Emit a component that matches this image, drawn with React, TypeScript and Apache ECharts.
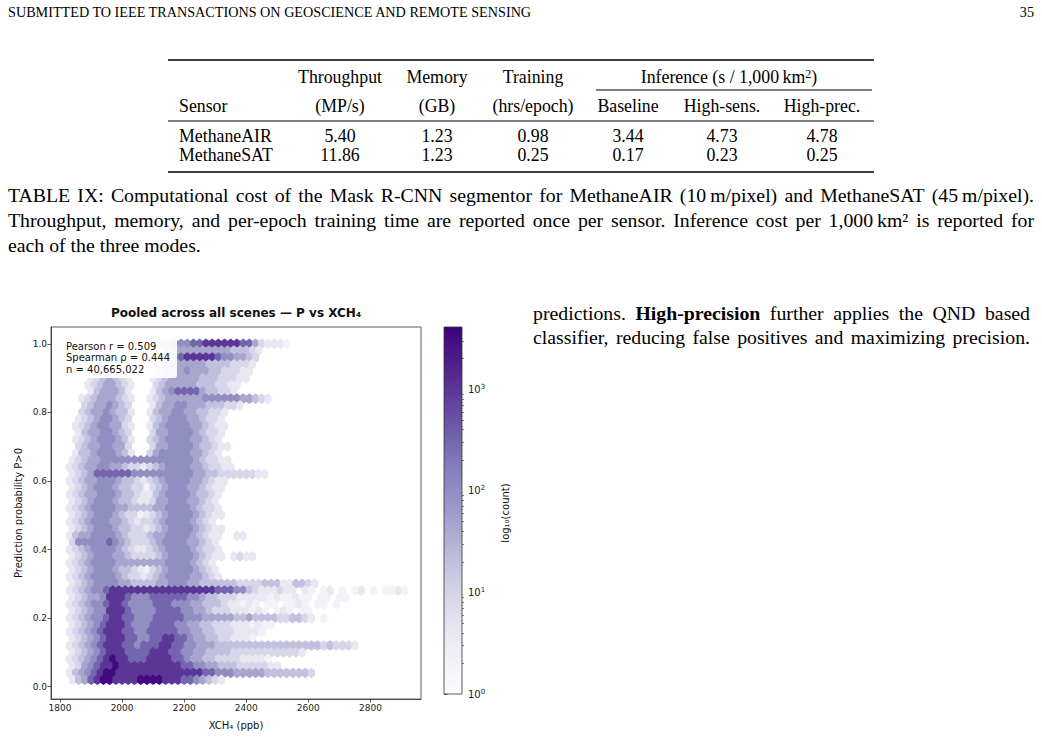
import React, { useEffect, useRef } from "react";
import * as echarts from "echarts";

// ---------------- page text ----------------
const HEADER = "SUBMITTED TO IEEE TRANSACTIONS ON GEOSCIENCE AND REMOTE SENSING";
const PAGE_NO = "35";

const tableHead1 = ["Throughput", "Memory", "Training"];
const tableHeadInference = "Inference (s / 1,000\u2009km{s|2})";
const tableHead2 = ["Sensor", "(MP/s)", "(GB)", "(hrs/epoch)", "Baseline", "High-sens.", "High-prec."];
const sensors = ["MethaneAIR", "MethaneSAT"];
const throughput = ["5.40", "11.86"];
const memoryGB = ["1.23", "1.23"];
const trainingHrs = ["0.98", "0.25"];
const infBaseline = ["3.44", "0.17"];
const infHighSens = ["4.73", "0.23"];
const infHighPrec = ["4.78", "0.25"];

const captionLines = [
  "TABLE IX: Computational cost of the Mask R-CNN segmentor for MethaneAIR (10\u2009m/pixel) and MethaneSAT (45\u2009m/pixel).",
  "Throughput, memory, and per-epoch training time are reported once per sensor. Inference cost per 1,000\u2009km² is reported for",
  "each of the three modes.",
];
const bodyLines = [
  "predictions. **High-precision** further applies the QND based",
  "classifier, reducing false positives and maximizing precision.",
];

// ---------------- chart text / ticks ----------------
const chartTitle = "Pooled across all scenes \u2014 P vs XCH\u2084";
const xLabel = "XCH\u2084 (ppb)";
const yLabel = "Prediction probability P>0";
const cbLabel = "log\u2081\u2080(count)";
const statsLines = ["Pearson r = 0.509", "Spearman \u03c1 = 0.444", "n = 40,665,022"];
const xTicks = [1800, 2000, 2200, 2400, 2600, 2800];
const yTicks = [0, 0.2, 0.4, 0.6, 0.8, 1.0];
const cbMajor = [1, 10, 100, 1000];
const cbMinor = [2, 3, 4, 5, 6, 7, 8, 9, 20, 30, 40, 50, 60, 70, 80, 90, 200, 300, 400, 500, 600, 700, 800, 900, 2000, 3000];
const CB_MAX = 4100;

const PURPLES = ["#fcfbfd", "#efedf5", "#dadaeb", "#bcbddc", "#9e9ac8", "#807dba", "#6a51a3", "#54278f", "#3f007d"];

// ---------------- hexbin density ----------------
// each row: one P level (top row P = 1.00, step 0.02 down to P = 0.02)
// char i = hex column; even rows x = 1830 + 20 i, odd rows x = 1840 + 20 i
// digit = density class, '.' = empty; LEVEL_LOG gives log10(count) of each class
const HEX_X0 = 1830;
const HEX_DX = 20;
const HEX_DP = 0.02;
const LEVEL_LOG = [0, 0.3, 0.6, 0.95, 1.3, 1.65, 2.0, 2.5, 3.0, 3.5];
const hexRows = [
  "...............556667788888877532221",
  "...............4455555555544432",
  "...............5567888887665543",
  "..............3455555544443332",
  "..............3455565554433322",
  "...2345432...2345555544433322",
  "...23455432...34555554443322",
  "...2455542...24567777544332",
  "..234555432..23455555566666655432",
  "..34556543...245566555444332",
  "..345565442..2455665544332",
  ".234566543...345666554332",
  ".2345665532..2456666554322",
  ".245566543...355666654332",
  ".2345666542..345666655432",
  ".345566553...3556666544322",
  ".2445666542..356666655432",
  "23455666666666666666543322",
  "234556655433234566665543322",
  "23457777776666666666554433333322",
  "23455666544323456666554322",
  "2345666544331345666554322",
  "2345566654432245666654432",
  "234566654432235566655432",
  "2345666655444455666654332",
  "2345666543312345666654322",
  "234566655432334566665432",
  "2345666544332345666654322",
  "2455666654333455666654322..22",
  "366666765433345666655432",
  "2345666654322345666654332",
  "2345666554333345666654322.2322",
  "234566665555555566665432",
  "234566654432134566665432",
  "2345666654332345666655432",
  "2345666655444455666554444443333444224432",
  "23456678888888888888888877766" + "43222322.21.12.1.12.1.1121",
  "2345568887666777777" + "66544333222221211211.11.11",
  "23456678876666777666" + "55444322121.11.1121.11.1",
  "23456688876666777766" + "554333222121.121.11",
  "2345667887766677777666" + "555554454444334432.1",
  "2345678887666777766" + "55443332221211",
  "2345678887766777776" + "6554433322221",
  "2345678887766778877" + "65544332221",
  "2345678887767778877" + "66555" + "44444444444444444343332",
  "2345678887777888776" + "6554444333333333332",
  "2345678988777888877" + "65544333322221",
  "2356788988888888887" + "766554443333322",
  "2456789988888888888888" + "776665555544444443",
  "2457899888899998887765432",
];

const hexData: number[][] = [];
hexRows.forEach((row, r) => {
  const k = hexRows.length - r;
  const p = +(k * HEX_DP).toFixed(2);
  const off = k % 2 === 1 ? HEX_DX / 2 : 0;
  for (let i = 0; i < row.length; i++) {
    const c = row[i];
    if (c === "." || c === " ") continue;
    hexData.push([HEX_X0 + off + i * HEX_DX, p, LEVEL_LOG[Number(c)]]);
  }
});

const SERIF = "Liberation Serif";
const SANS = "DejaVu Sans";
const HEX_PATH = "path://M0,-1L0.866,-0.5L0.866,0.5L0,1L-0.866,0.5L-0.866,-0.5Z";

function makeMeasure() {
  const c = document.createElement("canvas");
  const ctx = c.getContext("2d") as CanvasRenderingContext2D;
  return (t: string, size: number, bold = false, family = SERIF) => {
    ctx.font = `${bold ? "bold " : ""}${size}px "${family}"`;
    return ctx.measureText(t).width;
  };
}

function txt(t: string, x: number, y: number, size: number, o: any = {}) {
  return {
    type: "text",
    x,
    y,
    z: o.z ?? 10,
    silent: true,
    rotation: o.rotation ?? 0,
    scaleX: o.scaleX ?? 1,
    style: {
      text: t,
      fontSize: size,
      fontFamily: o.family ?? SERIF,
      fontWeight: o.bold ? "bold" : "normal",
      fill: o.fill ?? "#000",
      align: o.align ?? "left",
      verticalAlign: "middle",
      lineHeight: o.lineHeight,
      rich: o.rich,
    },
  };
}

function lineEls(line: string, x0: number, x1: number, y: number, size: number, justify: boolean, measure: any) {
  const words = line.split(" ").map((w) =>
    w.startsWith("**") ? { t: w.replace(/\*\*/g, ""), bold: true } : { t: w, bold: false }
  );
  const widths = words.map((w) => measure(w.t, size, w.bold));
  const total = widths.reduce((a: number, b: number) => a + b, 0);
  const space = measure(" ", size);
  const gap = justify && words.length > 1 ? (x1 - x0 - total) / (words.length - 1) : space;
  let x = x0;
  return words.map((w, i) => {
    const el = txt(w.t, x, y, size, { bold: w.bold });
    x += widths[i] + gap;
    return el;
  });
}

function rule(x: number, y: number, w: number, h: number) {
  return { type: "rect", silent: true, z: 10, shape: { x, y: y - h / 2, width: w, height: h }, style: { fill: "#000" } };
}

export default function App() {
  const ref = useRef<HTMLDivElement>(null);
  useEffect(() => {
    if (!ref.current) return;
    const chart = echarts.init(ref.current, null, { renderer: "svg" });
    const measure = makeMeasure();
    const els: any[] = [];

    // header
    const hSize = 14.2;
    const hW = measure(HEADER, hSize);
    els.push(txt(HEADER, 8, 12, hSize, { scaleX: (532 - 8) / hW }));
    els.push(txt(PAGE_NO, 1034, 12, hSize, { align: "right" }));

    // table
    const tSize = 17.8;
    const colX = [179, 340, 437, 533, 628, 722, 822];
    els.push(rule(168, 60, 706, 1.6));
    tableHead1.forEach((h, i) => els.push(txt(h, colX[i + 1], 77, tSize, { align: "center" })));
    els.push(
      txt(tableHeadInference, 729, 77, tSize, {
        align: "center",
        rich: { s: { fontSize: 12, fontFamily: SERIF, fill: "#000", verticalAlign: "top", padding: [0, 0, 7, 0] } },
      })
    );
    els.push(rule(596, 90, 276, 1));
    tableHead2.forEach((h, i) => els.push(txt(h, colX[i], 106, tSize, { align: i === 0 ? "left" : "center" })));
    els.push(rule(168, 121, 706, 1));
    sensors.forEach((s, r) => {
      const y = 136 + r * 19;
      const vals = [s, throughput[r], memoryGB[r], trainingHrs[r], infBaseline[r], infHighSens[r], infHighPrec[r]];
      vals.forEach((v, i) => els.push(txt(v, colX[i], y, tSize, { align: i === 0 ? "left" : "center" })));
    });
    els.push(rule(168, 172, 706, 1.6));

    // caption
    const cSize = 19.8;
    captionLines.forEach((l, i) => {
      els.push(...lineEls(l, 8, 1034, 195 + i * 25, cSize, i < captionLines.length - 1, measure));
    });
    // body text (right column)
    bodyLines.forEach((l, i) => {
      els.push(...lineEls(l, 533, 1030, 313 + i * 24, cSize, true, measure));
    });

    // chart decorations
    els.push(txt(chartTitle, 236, 313, 12, { family: SANS, bold: true, align: "center", fill: "#111" }));
    els.push({
      type: "rect",
      silent: true,
      z: 50,
      shape: { x: 61, y: 336, width: 116, height: 42, r: 3 },
      style: { fill: "#ffffff", opacity: 0.92 },
    });
    statsLines.forEach((s, i) => els.push(txt(s, 66, 346 + i * 11.8, 10, { family: SANS, z: 51, fill: "#111" })));
    // colorbar
    els.push({
      type: "rect",
      silent: true,
      z: 5,
      shape: { x: 444, y: 327, width: 18, height: 367 },
      style: {
        fill: {
          type: "linear",
          x: 0,
          y: 1,
          x2: 0,
          y2: 0,
          colorStops: PURPLES.map((c, i) => ({ offset: i / (PURPLES.length - 1), color: c })),
        },
        stroke: "#333",
        lineWidth: 0.8,
      },
    });
    els.push(txt(cbLabel, 505, 513, 10, { family: SANS, align: "center", rotation: Math.PI / 2, fill: "#111" }));

    const axisLineStyle = { color: "#333", width: 0.8 };
    const labelStyle = { fontSize: 9, fontFamily: SANS, color: "#222" };

    const option: any = {
      animation: false,
      backgroundColor: "#ffffff",
      grid: [
        { left: 51, top: 327, width: 370, height: 372, show: true, borderColor: "#333", borderWidth: 0.8, backgroundColor: "transparent" },
        { left: 444, top: 327, width: 18, height: 367, show: false },
      ],
      xAxis: [
        {
          type: "value",
          gridIndex: 0,
          min: 1771,
          max: 2963,
          splitLine: { show: false },
          axisLine: { show: true, onZero: false, lineStyle: axisLineStyle },
          axisTick: { show: true, length: 3.5, customValues: xTicks, lineStyle: axisLineStyle },
          axisLabel: { ...labelStyle, customValues: xTicks, margin: 4, formatter: (v: number) => String(v) },
          name: xLabel,
          nameLocation: "middle",
          nameGap: 21,
          nameTextStyle: { fontSize: 10, fontFamily: SANS, color: "#111" },
        },
        { type: "value", gridIndex: 1, show: false, min: 0, max: 1 },
      ],
      yAxis: [
        {
          type: "value",
          gridIndex: 0,
          min: -0.036,
          max: 1.049,
          splitLine: { show: false },
          axisLine: { show: true, onZero: false, lineStyle: axisLineStyle },
          axisTick: { show: true, length: 3.5, customValues: yTicks, lineStyle: axisLineStyle },
          axisLabel: { ...labelStyle, customValues: yTicks, margin: 4, formatter: (v: number) => v.toFixed(1) },
          name: yLabel,
          nameLocation: "middle",
          nameGap: 28,
          nameTextStyle: { fontSize: 10, fontFamily: SANS, color: "#111" },
        },
        {
          type: "log",
          gridIndex: 1,
          min: 1,
          max: CB_MAX,
          position: "right",
          splitLine: { show: false },
          axisLine: { show: false },
          axisTick: { show: true, length: 3.5, customValues: cbMajor, lineStyle: axisLineStyle },
          axisLabel: {
            ...labelStyle,
            fontSize: 10,
            customValues: cbMajor,
            margin: 6,
            formatter: (v: number) => `{b|10}{s|${Math.round(Math.log10(v))}}`,
            rich: {
              b: { fontSize: 10, fontFamily: SANS, color: "#222" },
              s: { fontSize: 7, fontFamily: SANS, color: "#222", verticalAlign: "top", padding: [0, 0, 5, 0] },
            },
          },
        },
        {
          type: "log",
          gridIndex: 1,
          min: 1,
          max: CB_MAX,
          position: "right",
          splitLine: { show: false },
          axisLine: { show: false },
          axisTick: { show: true, length: 2, customValues: cbMinor, lineStyle: { color: "#333", width: 0.6 } },
          axisLabel: { show: false },
        },
      ],
      visualMap: [
        {
          show: false,
          type: "continuous",
          seriesIndex: 0,
          dimension: 2,
          min: 0,
          max: Math.log10(CB_MAX),
          inRange: { color: PURPLES },
        },
      ],
      series: [
        {
          type: "scatter",
          xAxisIndex: 0,
          yAxisIndex: 0,
          data: hexData,
          symbol: HEX_PATH,
          symbolSize: [7.2, 10.6],
          silent: true,
          progressive: 0,
          itemStyle: { opacity: 1 },
          z: 2,
        },
      ],
      graphic: { elements: els },
    };
    chart.setOption(option);
    return () => chart.dispose();
  }, []);
  return <div ref={ref} style={{ position: "absolute", left: 0, top: 0, width: 1042, height: 739 }} />;
}
